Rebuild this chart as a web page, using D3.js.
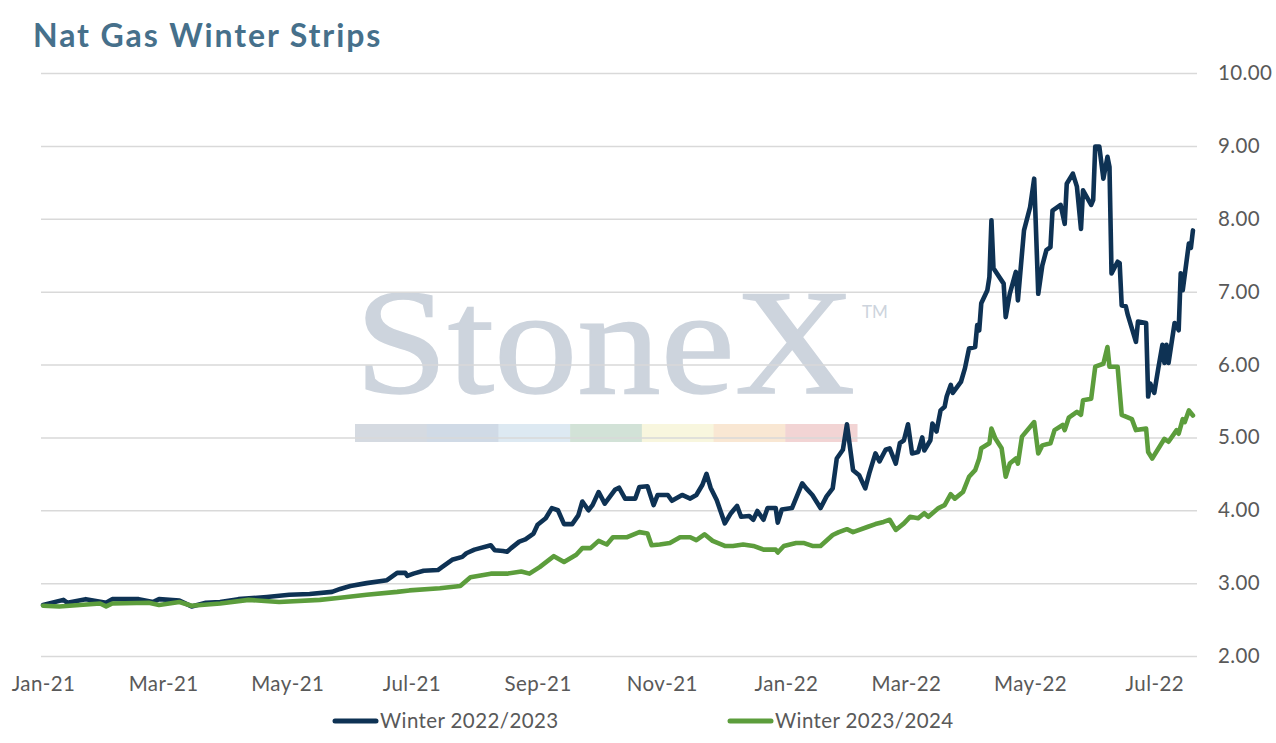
<!DOCTYPE html>
<html>
<head>
<meta charset="utf-8">
<title>Nat Gas Winter Strips</title>
<script src="https://cdn.jsdelivr.net/npm/d3@7"></script>
<style>
    body { margin: 0; background: #ffffff; }
    #chart-area { width: 1276px; height: 743px; }
</style>
</head>
<body>
<div id="chart-area"></div>
<script>
// Winter 2022/2023 strip
const winter2223 = [
    ["2021-01-01", 2.70], ["2021-01-11", 2.77], ["2021-01-13", 2.73], ["2021-01-22", 2.78],
    ["2021-02-01", 2.73], ["2021-02-04", 2.78], ["2021-02-17", 2.78], ["2021-02-24", 2.74],
    ["2021-02-27", 2.78], ["2021-03-09", 2.76], ["2021-03-15", 2.68], ["2021-03-22", 2.73],
    ["2021-03-29", 2.74], ["2021-04-07", 2.78], ["2021-04-21", 2.81], ["2021-05-02", 2.84],
    ["2021-05-12", 2.85], ["2021-05-23", 2.88], ["2021-05-27", 2.92], ["2021-06-01", 2.96],
    ["2021-06-09", 3.00], ["2021-06-19", 3.04], ["2021-06-24", 3.14], ["2021-06-28", 3.14],
    ["2021-06-29", 3.10], ["2021-07-02", 3.13], ["2021-07-07", 3.17], ["2021-07-14", 3.18],
    ["2021-07-16", 3.22], ["2021-07-21", 3.32], ["2021-07-26", 3.36], ["2021-07-28", 3.41],
    ["2021-08-01", 3.46], ["2021-08-09", 3.52], ["2021-08-11", 3.45], ["2021-08-15", 3.44],
    ["2021-08-17", 3.43], ["2021-08-19", 3.48], ["2021-08-23", 3.57], ["2021-08-26", 3.60],
    ["2021-08-30", 3.68], ["2021-09-01", 3.80], ["2021-09-05", 3.89], ["2021-09-08", 4.03],
    ["2021-09-11", 4.00], ["2021-09-14", 3.81], ["2021-09-18", 3.81], ["2021-09-21", 3.93],
    ["2021-09-23", 4.12], ["2021-09-26", 4.00], ["2021-09-28", 4.07], ["2021-10-01", 4.25],
    ["2021-10-04", 4.09], ["2021-10-09", 4.28], ["2021-10-11", 4.31], ["2021-10-14", 4.16],
    ["2021-10-19", 4.16], ["2021-10-21", 4.32], ["2021-10-25", 4.33], ["2021-10-28", 4.07],
    ["2021-10-30", 4.21], ["2021-11-04", 4.21], ["2021-11-06", 4.13], ["2021-11-11", 4.21],
    ["2021-11-15", 4.16], ["2021-11-18", 4.21], ["2021-11-21", 4.35], ["2021-11-23", 4.50],
    ["2021-11-25", 4.31], ["2021-11-28", 4.14], ["2021-11-30", 3.98], ["2021-12-02", 3.82],
    ["2021-12-05", 3.96], ["2021-12-08", 4.06], ["2021-12-10", 3.91], ["2021-12-14", 3.92],
    ["2021-12-16", 3.87], ["2021-12-18", 3.99], ["2021-12-21", 3.87], ["2021-12-23", 4.03],
    ["2021-12-27", 4.03], ["2021-12-28", 3.83], ["2021-12-30", 4.01], ["2022-01-04", 4.03],
    ["2022-01-09", 4.37], ["2022-01-11", 4.30], ["2022-01-14", 4.21], ["2022-01-18", 4.03],
    ["2022-01-21", 4.19], ["2022-01-24", 4.30], ["2022-01-26", 4.71], ["2022-01-29", 4.83],
    ["2022-01-31", 5.18], ["2022-02-03", 4.55], ["2022-02-06", 4.48], ["2022-02-09", 4.30],
    ["2022-02-11", 4.51], ["2022-02-14", 4.78], ["2022-02-16", 4.67], ["2022-02-19", 4.83],
    ["2022-02-21", 4.85], ["2022-02-24", 4.64], ["2022-02-26", 4.92], ["2022-02-28", 4.96],
    ["2022-03-02", 5.18], ["2022-03-04", 4.78], ["2022-03-07", 4.80], ["2022-03-09", 5.00],
    ["2022-03-10", 4.82], ["2022-03-13", 4.96], ["2022-03-14", 5.19], ["2022-03-16", 5.08],
    ["2022-03-18", 5.37], ["2022-03-20", 5.42], ["2022-03-21", 5.56], ["2022-03-23", 5.72],
    ["2022-03-24", 5.61], ["2022-03-28", 5.76], ["2022-03-30", 5.95], ["2022-04-01", 6.22],
    ["2022-04-04", 6.24], ["2022-04-05", 6.54], ["2022-04-06", 6.47], ["2022-04-07", 6.84],
    ["2022-04-10", 7.02], ["2022-04-11", 7.20], ["2022-04-12", 7.98], ["2022-04-13", 7.32],
    ["2022-04-18", 7.11], ["2022-04-19", 6.65], ["2022-04-21", 6.97], ["2022-04-24", 7.27],
    ["2022-04-25", 6.88], ["2022-04-28", 7.84], ["2022-05-01", 8.16], ["2022-05-03", 8.55],
    ["2022-05-05", 6.97], ["2022-05-07", 7.36], ["2022-05-09", 7.57], ["2022-05-11", 7.61],
    ["2022-05-12", 8.11], ["2022-05-16", 8.19], ["2022-05-18", 7.93], ["2022-05-19", 8.48],
    ["2022-05-22", 8.62], ["2022-05-24", 8.44], ["2022-05-26", 7.86], ["2022-05-27", 8.39],
    ["2022-05-31", 8.19], ["2022-06-01", 8.26], ["2022-06-02", 8.99], ["2022-06-04", 8.99],
    ["2022-06-06", 8.55], ["2022-06-08", 8.85], ["2022-06-09", 8.71], ["2022-06-10", 7.25],
    ["2022-06-13", 7.41], ["2022-06-14", 7.39], ["2022-06-15", 6.81], ["2022-06-17", 6.80],
    ["2022-06-18", 6.68], ["2022-06-22", 6.31], ["2022-06-23", 6.59], ["2022-06-27", 6.57],
    ["2022-06-28", 5.56], ["2022-06-29", 5.74], ["2022-07-01", 5.61], ["2022-07-03", 5.95],
    ["2022-07-05", 6.27], ["2022-07-06", 6.02], ["2022-07-07", 6.27], ["2022-07-08", 6.02],
    ["2022-07-11", 6.57], ["2022-07-13", 6.47], ["2022-07-14", 7.25], ["2022-07-15", 7.02],
    ["2022-07-18", 7.66], ["2022-07-19", 7.60], ["2022-07-20", 7.84]
];

// Winter 2023/2024 strip
const winter2324 = [
    ["2021-01-01", 2.69], ["2021-01-09", 2.68], ["2021-01-29", 2.72], ["2021-02-01", 2.68],
    ["2021-02-04", 2.72], ["2021-02-22", 2.73], ["2021-02-27", 2.70], ["2021-03-09", 2.74],
    ["2021-03-15", 2.69], ["2021-03-29", 2.72], ["2021-04-12", 2.77], ["2021-04-27", 2.74],
    ["2021-05-17", 2.77], ["2021-05-27", 2.80], ["2021-06-09", 2.84], ["2021-06-24", 2.88],
    ["2021-06-30", 2.90], ["2021-07-15", 2.93], ["2021-07-25", 2.96], ["2021-07-30", 3.08],
    ["2021-08-09", 3.13], ["2021-08-17", 3.13], ["2021-08-24", 3.16], ["2021-08-28", 3.13],
    ["2021-09-02", 3.22], ["2021-09-09", 3.37], ["2021-09-14", 3.29], ["2021-09-20", 3.39],
    ["2021-09-23", 3.48], ["2021-09-27", 3.48], ["2021-10-01", 3.58], ["2021-10-05", 3.53],
    ["2021-10-08", 3.63], ["2021-10-15", 3.63], ["2021-10-21", 3.70], ["2021-10-25", 3.68],
    ["2021-10-27", 3.52], ["2021-10-31", 3.53], ["2021-11-05", 3.55], ["2021-11-10", 3.63],
    ["2021-11-15", 3.63], ["2021-11-18", 3.59], ["2021-11-22", 3.67], ["2021-11-26", 3.58],
    ["2021-12-02", 3.51], ["2021-12-06", 3.51], ["2021-12-11", 3.53], ["2021-12-16", 3.51],
    ["2021-12-21", 3.46], ["2021-12-27", 3.46], ["2021-12-28", 3.42], ["2021-12-31", 3.51],
    ["2022-01-06", 3.55], ["2022-01-10", 3.55], ["2022-01-14", 3.51], ["2022-01-18", 3.51],
    ["2022-01-24", 3.66], ["2022-01-27", 3.70], ["2022-01-31", 3.74], ["2022-02-03", 3.70],
    ["2022-02-10", 3.77], ["2022-02-14", 3.81], ["2022-02-18", 3.84], ["2022-02-21", 3.87],
    ["2022-02-24", 3.73], ["2022-02-28", 3.82], ["2022-03-03", 3.91], ["2022-03-07", 3.89],
    ["2022-03-10", 3.96], ["2022-03-12", 3.91], ["2022-03-17", 4.03], ["2022-03-20", 4.07],
    ["2022-03-23", 4.22], ["2022-03-25", 4.16], ["2022-03-29", 4.25], ["2022-04-01", 4.46],
    ["2022-04-04", 4.55], ["2022-04-06", 4.71], ["2022-04-07", 4.85], ["2022-04-11", 4.92],
    ["2022-04-12", 5.12], ["2022-04-14", 4.98], ["2022-04-17", 4.85], ["2022-04-19", 4.46],
    ["2022-04-21", 4.64], ["2022-04-24", 4.71], ["2022-04-25", 4.64], ["2022-04-27", 5.01],
    ["2022-05-03", 5.21], ["2022-05-05", 4.78], ["2022-05-07", 4.89], ["2022-05-11", 4.92],
    ["2022-05-13", 5.10], ["2022-05-17", 5.17], ["2022-05-18", 5.10], ["2022-05-20", 5.27],
    ["2022-05-24", 5.35], ["2022-05-26", 5.31], ["2022-05-27", 5.51], ["2022-05-31", 5.53],
    ["2022-06-02", 5.97], ["2022-06-06", 6.01], ["2022-06-08", 6.24], ["2022-06-09", 5.97],
    ["2022-06-13", 5.97], ["2022-06-15", 5.31], ["2022-06-20", 5.25], ["2022-06-22", 5.10],
    ["2022-06-27", 5.12], ["2022-06-28", 4.80], ["2022-06-30", 4.71], ["2022-07-06", 4.98],
    ["2022-07-08", 4.94], ["2022-07-12", 5.10], ["2022-07-13", 5.05], ["2022-07-15", 5.25],
    ["2022-07-16", 5.21], ["2022-07-18", 5.37], ["2022-07-20", 5.30]
];

const seriesNames = ["Winter 2022/2023", "Winter 2023/2024"];
const seriesColors = ["#0e3254", "#5c9d3c"];
const yTicks = [2, 3, 4, 5, 6, 7, 8, 9, 10];
const xTickDates = ["2021-01-01", "2021-03-01", "2021-05-01", "2021-07-01", "2021-09-01",
    "2021-11-01", "2022-01-01", "2022-03-01", "2022-05-01", "2022-07-01"];
const xDomain = ["2020-12-31", "2022-07-22"];

// watermark stripe colours
const stripeColors = ["#d5dae1", "#d0dae6", "#dde9f2", "#d2e2d7", "#f8f6de", "#f9e7d3", "#f2d4d4"];

const labelFont = "Lato, 'Open Sans', sans-serif";

class stripsVis {

    constructor(parentElement, series) {
        this.parentElement = parentElement;
        this.series = series;
        this.initVis();
    }

    initVis() {
        let vis = this;

        vis.width = 1276;
        vis.height = 743;
        vis.plot = {left: 41, right: 1197, top: 73, bottom: 656};

        vis.svg = d3.select(`#${vis.parentElement}`)
            .append("svg")
            .attr("width", vis.width)
            .attr("height", vis.height);

        let parseDate = d3.timeParse("%Y-%m-%d");

        vis.x = d3.scaleTime()
            .domain(xDomain.map(parseDate))
            .range([vis.plot.left, vis.plot.right]);
        vis.y = d3.scaleLinear()
            .domain([2, 10])
            .range([vis.plot.bottom, vis.plot.top]);

        // Title
        vis.svg.append("text")
            .attr("x", 33)
            .attr("y", 47)
            .style("font-family", labelFont)
            .style("font-size", "32px")
            .style("font-weight", 700)
            .style("letter-spacing", "1.9px")
            .attr("fill", "#46708b")
            .text("Nat Gas Winter Strips");

        // Watermark
        let wm = vis.svg.append("g").attr("class", "watermark");
        wm.append("text")
            .attr("x", 355)
            .attr("y", 393)
            .style("font-family", "'Liberation Serif', 'DejaVu Serif', serif")
            .style("font-size", "150px")
            .attr("textLength", 500)
            .attr("lengthAdjust", "spacingAndGlyphs")
            .attr("fill", "#cdd4dd")
            .attr("stroke", "#cdd4dd")
            .attr("stroke-width", 1.5)
            .text("StoneX");
        wm.append("text")
            .attr("x", 862)
            .attr("y", 318)
            .style("font-family", labelFont)
            .style("font-size", "17px")
            .attr("fill", "#cdd4dd")
            .text("TM");
        let stripeW = (857 - 355) / stripeColors.length;
        wm.selectAll(".stripe")
            .data(stripeColors)
            .enter().append("rect")
            .attr("class", "stripe")
            .attr("x", (d, i) => 355 + i * stripeW)
            .attr("y", 424)
            .attr("width", stripeW + 0.5)
            .attr("height", 18)
            .attr("fill", d => d);

        // Gridlines + right-side labels
        let yAxis = d3.axisRight(vis.y)
            .tickValues(yTicks)
            .tickSize(vis.plot.right - vis.plot.left)
            .tickPadding(21)
            .tickFormat(d3.format(".2f"));
        let gy = vis.svg.append("g")
            .attr("transform", `translate(${vis.plot.left},0)`)
            .call(yAxis);
        gy.select(".domain").remove();
        gy.selectAll(".tick line")
            .attr("stroke", "#d9d9d9")
            .attr("stroke-width", 1.5);
        gy.selectAll(".tick text")
            .style("font-family", labelFont)
            .style("font-size", "20.5px")
            .style("letter-spacing", "0.4px")
            .attr("fill", "#595959");

        // X axis labels
        let xAxis = d3.axisBottom(vis.x)
            .tickValues(xTickDates.map(parseDate))
            .tickSize(0)
            .tickPadding(20)
            .tickFormat(d3.timeFormat("%b-%y"));
        let gx = vis.svg.append("g")
            .attr("transform", `translate(0,${vis.plot.bottom})`)
            .call(xAxis);
        gx.select(".domain").remove();
        gx.selectAll(".tick text")
            .style("font-family", labelFont)
            .style("font-size", "20.5px")
            .style("letter-spacing", "0.4px")
            .attr("fill", "#595959");

        // Lines
        let line = d3.line()
            .x(d => vis.x(parseDate(d[0])))
            .y(d => vis.y(d[1]));

        vis.svg.selectAll(".series")
            .data(vis.series)
            .enter().append("path")
            .attr("class", "series")
            .attr("d", d => line(d))
            .attr("fill", "none")
            .attr("stroke", (d, i) => seriesColors[i])
            .attr("stroke-width", 4.6)
            .attr("stroke-linejoin", "round")
            .attr("stroke-linecap", "round");

        // Legend
        let legendX = [333, 728];
        let legend = vis.svg.selectAll(".legend")
            .data(seriesNames)
            .enter().append("g")
            .attr("class", "legend")
            .attr("transform", (d, i) => `translate(${legendX[i]},721)`);
        legend.append("line")
            .attr("x1", 2).attr("x2", 43)
            .attr("stroke", (d, i) => seriesColors[i])
            .attr("stroke-width", 5)
            .attr("stroke-linecap", "round");
        legend.append("text")
            .attr("x", 47)
            .attr("dy", "0.35em")
            .style("font-family", labelFont)
            .style("font-size", "20.5px")
            .style("letter-spacing", "0.4px")
            .attr("fill", "#595959")
            .text(d => d);
    }
}

new stripsVis("chart-area", [winter2223, winter2324]);
</script>
</body>
</html>
